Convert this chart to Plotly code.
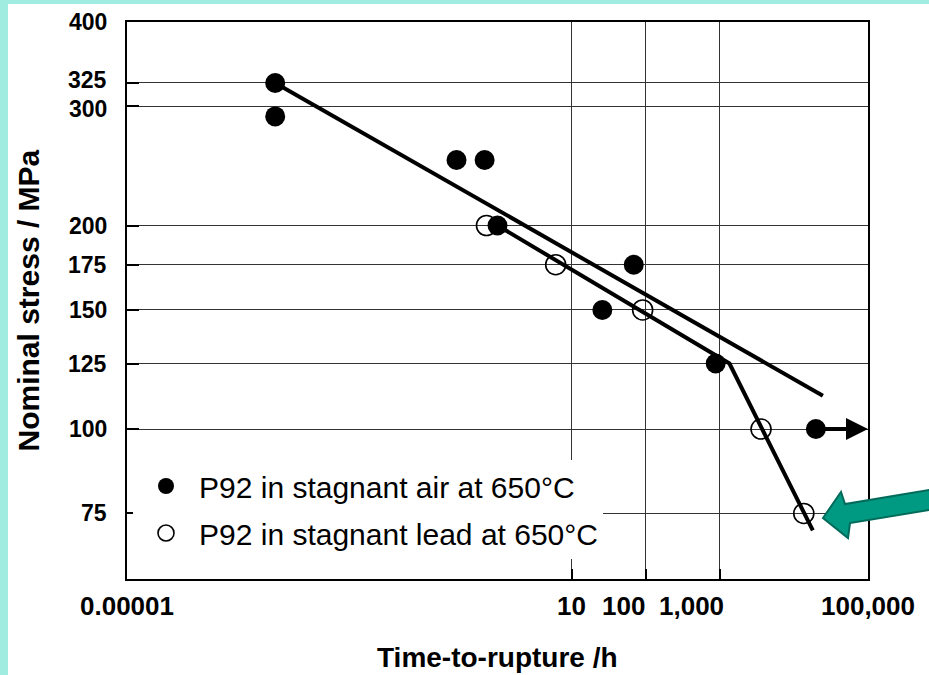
import numpy as np
import plotly.graph_objects as go

# ---- data ----
air_time = [0.001, 0.001, 0.28, 0.67, 1.0, 26, 69, 880, 19800]
air_stress = [325, 290, 250, 250, 200, 150, 175, 125, 100]

lead_time = [0.71, 6.1, 91, 3600, 13600]
lead_stress = [200, 175, 150, 100, 75]

air_fit_time = [0.001, 24600]
air_fit_stress = [325, 112]

lead_fit_time = [1.0, 1350, 18000]
lead_fit_stress = [200, 125, 70.8]

y_tick_vals = [75, 100, 125, 150, 175, 200, 300, 325, 400]
y_tick_text = ["75", "100", "125", "150", "175", "200", "300", "325", "400"]
x_tick_vals = [1e-5, 10, 100, 1000, 1e5]
x_tick_text = ["0.00001", "10", "100", "1,000", "100,000"]

runout_index = 8          # air test still running at 100 MPa
x_min, x_max = 1e-5, 1e5
y_min, y_max = 60, 400

# ---- layout geometry ----
W, H = 929, 675
ML, MR, MT, MB = 127, 61, 22, 96
PW, PH = W - ML - MR, H - MT - MB


def px(xp):
    return (xp - ML) / PW


def py(yp):
    return (H - MB - yp) / PH


FONT = "Liberation Sans, Arial, sans-serif"

fig = go.Figure()

fig.add_trace(go.Scatter(x=air_fit_time, y=air_fit_stress, mode="lines",
                         line=dict(color="black", width=4), showlegend=False,
                         hoverinfo="skip"))
fig.add_trace(go.Scatter(x=lead_fit_time, y=lead_fit_stress, mode="lines",
                         line=dict(color="black", width=4), showlegend=False,
                         hoverinfo="skip"))

fig.add_trace(go.Scatter(x=air_time, y=air_stress, mode="markers",
                         name="P92 in stagnant air at 650°C",
                         legendgroup="air",
                         marker=dict(symbol="circle", size=20, color="black")))
fig.add_trace(go.Scatter(x=lead_time, y=lead_stress, mode="markers",
                         name="P92 in stagnant lead at 650°C",
                         legendgroup="lead",
                         marker=dict(symbol="circle-open", size=20, color="black",
                                     line=dict(width=1.6, color="black"))))

annotations = []
# x tick labels
x_label_anchor = ["center", "center", "right", "right", "center"]
x_label_shift = [0, 0, 1, 6, 0]
for v, t, a, s in zip(x_tick_vals, x_tick_text, x_label_anchor, x_label_shift):
    annotations.append(dict(x=np.log10(v), xref="x", y=py(606), yref="paper",
                            text=t, showarrow=False, xanchor=a, yanchor="middle",
                            xshift=s,
                            font=dict(family=FONT, size=26, color="black", weight="bold")))

# y tick labels (325 and 300 nudged apart slightly so they do not collide)
y_label_shift = {325: 3, 300: -3}
for v, t in zip(y_tick_vals, y_tick_text):
    annotations.append(dict(x=px(109), xref="paper", y=np.log10(v), yref="y",
                            text=t, showarrow=False, xanchor="right", yanchor="middle",
                            yshift=y_label_shift.get(v, 0),
                            font=dict(family=FONT, size=23, color="black", weight="bold")))

# axis titles
annotations.append(dict(x=0.5, xref="paper", y=py(658), yref="paper",
                        text="Time-to-rupture /h", showarrow=False,
                        xanchor="center", yanchor="middle",
                        font=dict(family=FONT, size=28, color="black", weight="bold")))
annotations.append(dict(x=px(28), xref="paper", y=0.5, yref="paper",
                        text="Nominal stress / MPa", showarrow=False, textangle=-90,
                        xanchor="center", yanchor="middle",
                        font=dict(family=FONT, size=30, color="black", weight="bold")))

# run-out arrow
annotations.append(dict(x=np.log10(x_max), y=np.log10(air_stress[runout_index]),
                        xref="x", yref="y",
                        ax=np.log10(air_time[runout_index]),
                        ay=np.log10(air_stress[runout_index]),
                        axref="x", ayref="y", showarrow=True,
                        arrowhead=2, arrowwidth=4, arrowsize=1.1,
                        arrowcolor="black", text=""))

shapes = []
aqua = "#a0ece0"
# slide border strips
shapes.append(dict(type="rect", xref="paper", yref="paper",
                   x0=px(0), x1=px(8), y0=py(H), y1=py(0),
                   fillcolor=aqua, line=dict(width=0), layer="above"))
shapes.append(dict(type="rect", xref="paper", yref="paper",
                   x0=px(0), x1=px(W), y0=py(4), y1=py(0),
                   fillcolor=aqua, line=dict(width=0), layer="above"))

# teal pointer arrow
pts = [(823, 518), (841, 492), (845, 504), (935, 489),
       (935, 509), (850, 523), (848, 538)]
path = "M " + " L ".join(f"{px(a):.5f},{py(b):.5f}" for a, b in pts) + " Z"
shapes.append(dict(type="path", xref="paper", yref="paper", path=path,
                   fillcolor="#009a82", line=dict(color="#006b5a", width=2),
                   layer="above"))

fig.update_layout(
    width=W, height=H,
    margin=dict(l=ML, r=MR, t=MT, b=MB, pad=0, autoexpand=False),
    paper_bgcolor="white", plot_bgcolor="white",
    font=dict(family=FONT, color="black"),
    showlegend=True,
    legend=dict(x=px(133), y=py(460), xanchor="left", yanchor="top",
                bgcolor="white", borderwidth=0,
                font=dict(family=FONT, size=30, color="black"),
                traceorder="grouped", tracegroupgap=5,
                itemwidth=56),
    xaxis=dict(type="log", range=[np.log10(x_min), np.log10(x_max)],
               tickvals=x_tick_vals, showticklabels=False, automargin=False,
               ticks="inside", ticklen=10, tickwidth=2, tickcolor="black",
               showgrid=True, gridcolor="#333333", gridwidth=1,
               showline=True, linecolor="black", linewidth=2, mirror=True,
               zeroline=False),
    yaxis=dict(type="log", range=[np.log10(y_min), np.log10(y_max)],
               tickvals=y_tick_vals, showticklabels=False, automargin=False,
               ticks="inside", ticklen=12, tickwidth=2, tickcolor="black",
               showgrid=True, gridcolor="#333333", gridwidth=1,
               showline=True, linecolor="black", linewidth=2, mirror=True,
               zeroline=False),
    annotations=annotations,
    shapes=shapes,
)

fig.write_html("out.html")
